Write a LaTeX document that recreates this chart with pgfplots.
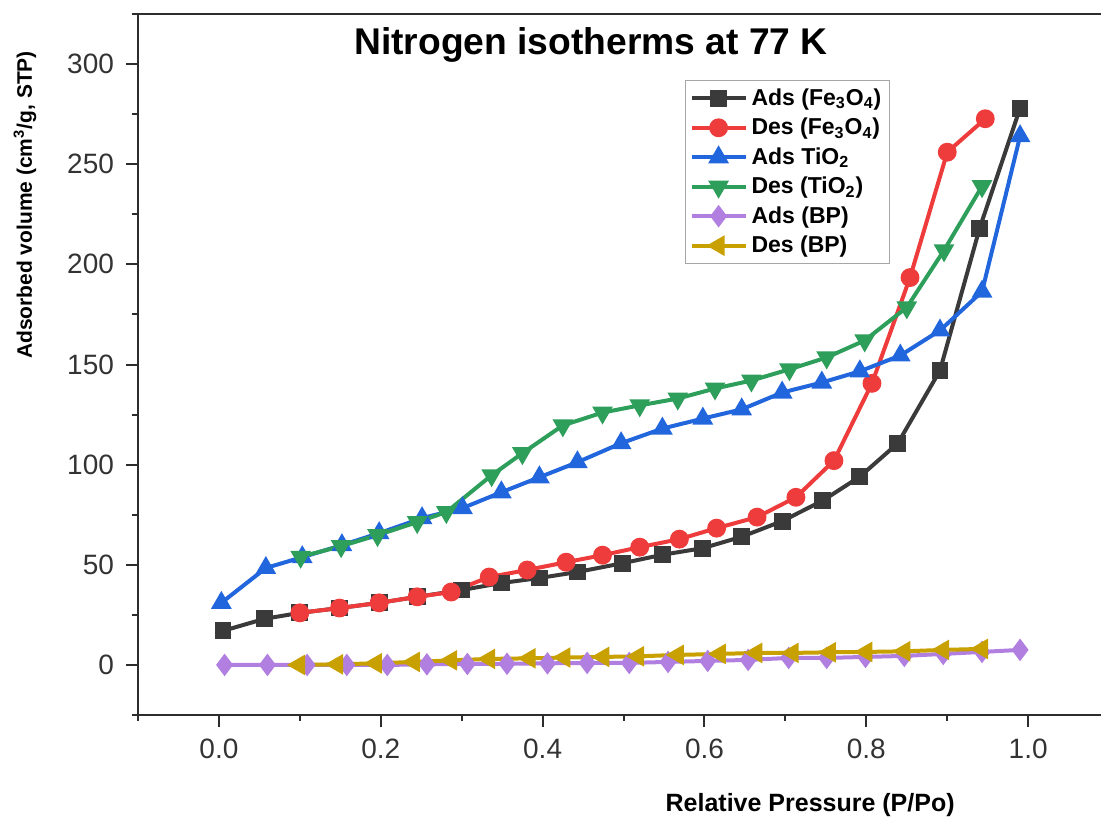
\documentclass[border=0pt]{standalone}
\usepackage{pgfplots}
\pgfplotsset{compat=1.18}
\usepackage{fontspec}
\setmainfont{Liberation Sans}
\usetikzlibrary{calc}

\definecolor{cAdsFe}{RGB}{58,58,58}
\definecolor{cDesFe}{RGB}{238,59,59}
\definecolor{cAdsTi}{RGB}{34,102,221}
\definecolor{cDesTi}{RGB}{46,158,91}
\definecolor{cAdsBP}{RGB}{176,127,224}
\definecolor{cDesBP}{RGB}{200,160,0}
\definecolor{axgray}{RGB}{45,45,45}

\begin{document}
\begin{tikzpicture}
\begin{axis}[
  name=ax,
  scale only axis,
  width=481.5pt, height=350.5pt,
  xmin=-0.1, xmax=1.09,
  ymin=-25, ymax=325,
  axis x line*=box,
  axis y line*=left,
  xtick pos=lower,
  ytick pos=left,
  axis line style={line width=1.2pt, color=axgray},
  tick align=outside,
  tick style={line width=1pt, color=axgray},
  major tick length=6pt,
  minor tick length=3pt,
  xtick={0,0.2,0.4,0.6,0.8,1.0},
  minor xtick={-0.1,0.1,0.3,0.5,0.7,0.9},
  ytick={0,50,100,150,200,250,300},
  minor ytick={-25,25,75,125,175,225,275,325},
  /pgf/number format/assume math mode=true,
  ticklabel style={font=\fontsize{14}{16}\selectfont, color=black!80},
  xticklabel style={yshift=-2.5pt, /pgf/number format/.cd, fixed, fixed zerofill, precision=1},
  yticklabel style={xshift=-2.5pt},
  xlabel={Relative Pressure (P/Po)},
  xlabel style={at={(rel axis cs:0.698,0)}, anchor=center, yshift=-45pt,
    font=\bfseries\fontsize{12.5}{14}\selectfont},
  ylabel={Adsorbed volume (cm\textsuperscript{3}/g, STP)},
  ylabel style={at={($(rel axis cs:0,0.7275)+(-56.5pt,0)$)}, anchor=center, rotate=0,
    font=\bfseries\fontsize{10.5}{12}\selectfont},
  title={Nitrogen isotherms at 77 K},
  title style={at={(rel axis cs:0.4704,0.944)}, anchor=base, yshift=-6.5pt,
    font=\bfseries\fontsize{18.6}{20}\selectfont},
  every axis plot/.append style={line width=2pt},
  legend cell align=left,
  legend image code/.code={
    \draw[mark repeat=2, mark phase=2] plot coordinates {(0pt,0pt) (13.5pt,0pt) (27pt,0pt)};},
  legend style={at={(0.568,0.906)}, anchor=north west, draw=black!35, line width=0.6pt,
    font=\bfseries\fontsize{11.5}{13}\selectfont, row sep=0.9pt, inner sep=2pt},
]
% adsorption branch, Fe3O4
\addplot[color=cAdsFe, mark=square*, mark size=3.2pt] coordinates {
  (0.005,17) (0.056,23) (0.1,26) (0.149,28.4) (0.198,31) (0.245,34) (0.3,37.4)
  (0.349,40.9) (0.396,43.4) (0.443,46.4) (0.499,50.8) (0.548,55) (0.598,58.3)
  (0.646,64) (0.696,71.8) (0.746,82) (0.792,94) (0.839,110.7) (0.891,147)
  (0.94,218) (0.99,278)
};
\addlegendentry{Ads (Fe\textsubscript{3}O\textsubscript{4})}
% desorption branch, Fe3O4
\addplot[color=cDesFe, mark=*, mark size=3.7pt] coordinates {
  (0.947,272.7) (0.9,256) (0.854,193.4) (0.807,140.6) (0.76,102) (0.713,83.7)
  (0.665,73.8) (0.615,68.3) (0.569,62.8) (0.52,58.8) (0.474,54.8) (0.429,51.3)
  (0.381,47.4) (0.334,43.9) (0.287,36.4) (0.245,34) (0.198,31) (0.149,28.4) (0.1,26)
};
\addlegendentry{Des (Fe\textsubscript{3}O\textsubscript{4})}
% adsorption branch, TiO2
\addplot[color=cAdsTi, mark=triangle*, mark size=4pt] coordinates {
  (0.003,31) (0.058,48.4) (0.103,53.8) (0.152,59.8) (0.198,65.8) (0.251,73.3)
  (0.301,78.3) (0.349,86.2) (0.396,93.7) (0.443,101.2) (0.497,110.7) (0.548,118)
  (0.598,123) (0.646,127.6) (0.696,136) (0.745,141) (0.792,146.6) (0.842,154.5)
  (0.891,167) (0.943,186.4) (0.99,264)
};
\addlegendentry{Ads TiO\textsubscript{2}}
% desorption branch, TiO2
\addplot[color=cDesTi, mark=triangle*, mark size=4pt, mark options={rotate=180}] coordinates {
  (0.943,239) (0.896,207) (0.85,178.5) (0.798,162) (0.751,153.5) (0.705,147.6)
  (0.658,142) (0.613,138) (0.567,133) (0.52,129.6) (0.474,126) (0.425,119.6)
  (0.375,105.7) (0.337,94.7) (0.281,76.3) (0.245,71.3) (0.196,64.8) (0.151,59.3)
  (0.101,54)
};
\addlegendentry{Des (TiO\textsubscript{2})}
% adsorption branch, BP
\addplot[color=cAdsBP, mark=diamond*, mark size=4pt] coordinates {
  (0.007,0) (0.06,0) (0.109,0) (0.158,0) (0.208,0) (0.257,0.3) (0.307,0.5)
  (0.356,0.6) (0.406,0.8) (0.455,1) (0.507,1) (0.555,1.5) (0.604,2) (0.654,2.5)
  (0.704,3.5) (0.751,3.5) (0.799,4) (0.847,4.5) (0.895,5.5) (0.943,6.5) (0.99,7.5)
};
\addlegendentry{Ads (BP)}
% desorption branch, BP
\addplot[color=cDesBP, mark=triangle*, mark size=4pt, mark options={rotate=90}] coordinates {
  (0.943,8) (0.895,7.5) (0.847,6.8) (0.8,6.5) (0.755,6.3) (0.709,6) (0.664,6)
  (0.619,5.5) (0.567,5) (0.518,4.3) (0.475,4) (0.427,3.7) (0.384,3.3) (0.334,3)
  (0.287,2.3) (0.241,1.5) (0.194,0.8) (0.146,0.3) (0.099,0)
};
\addlegendentry{Des (BP)}
\end{axis}
\pgfresetboundingbox
\path[use as bounding box] ($(ax.south west)+(-69pt,-52pt)$) rectangle ($(ax.north east)+(0pt,7pt)$);
\end{tikzpicture}
\end{document}
